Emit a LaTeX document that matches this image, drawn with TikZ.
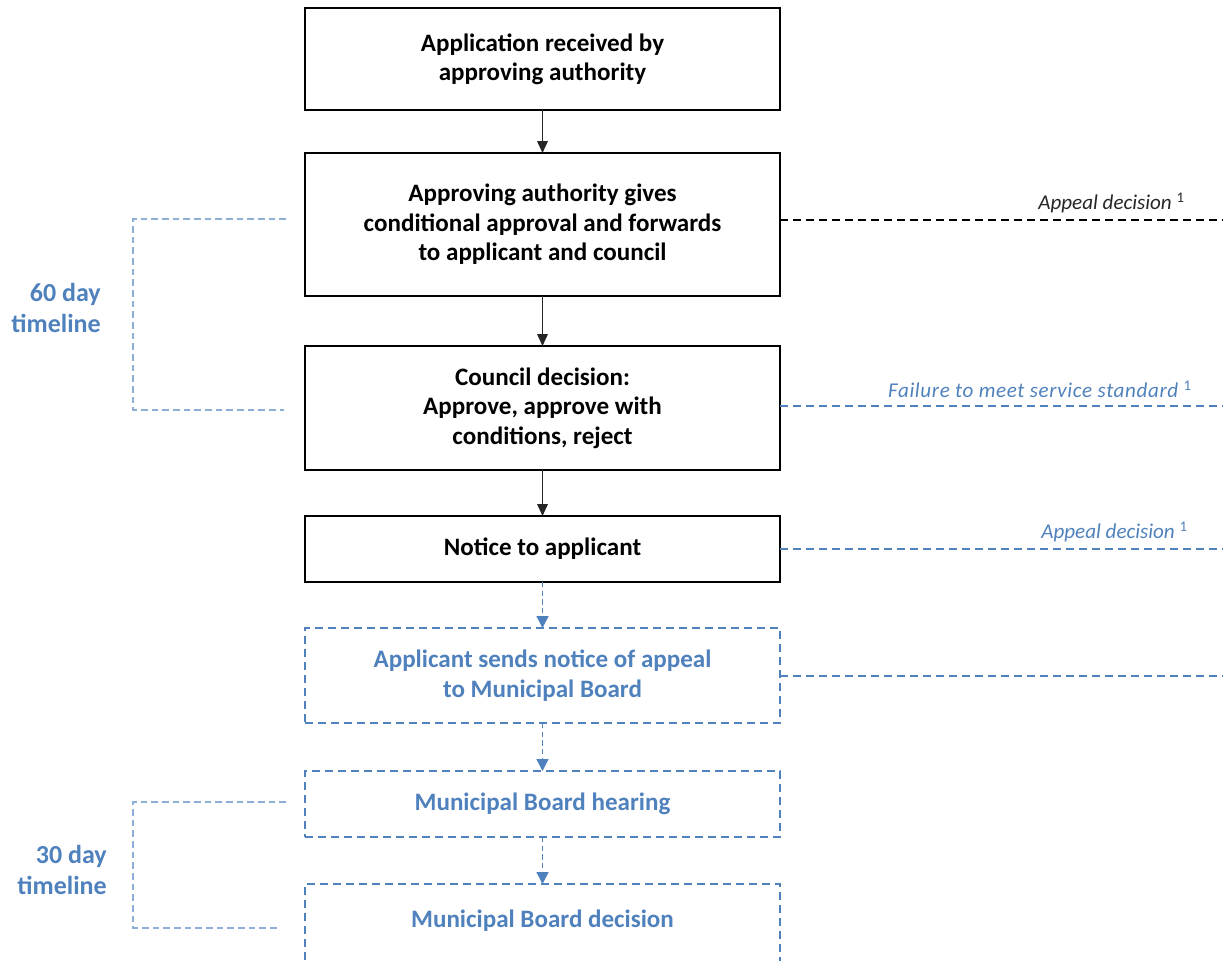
\documentclass[tikz,border=0pt]{standalone}
\usepackage{fontspec}
\setmainfont{Carlito}
\usetikzlibrary{arrows.meta}
\definecolor{ablue}{HTML}{4F81BD}
\definecolor{lblue}{HTML}{8EAEDA}
\begin{document}
\begin{tikzpicture}[x=0.75pt,y=-0.75pt,
  boxfont/.style={font=\fontsize{18.8}{22}\selectfont\bfseries},
  blackbox/.style={boxfont, draw=black, line width=1.1pt, minimum width=356.25pt,
    inner sep=0pt, outer sep=0pt, align=center, fill=white},
  bluebox/.style={boxfont, draw=ablue, text=ablue, line width=1.1pt,
    dash pattern=on 6pt off 3.75pt, minimum width=356.25pt,
    inner sep=0pt, outer sep=0pt, align=center},
  blackarrow/.style={draw=black!85, line width=1.1pt, -{Triangle[length=9pt,width=8pt]}},
  bluearrow/.style={draw=ablue, line width=1.1pt, dash pattern=on 4pt off 2.5pt,
    -{Triangle[length=9pt,width=9pt]}},
  blackdash/.style={draw=black, line width=1.1pt, dash pattern=on 6pt off 3.75pt},
  bluedash/.style={draw=ablue, line width=1.1pt, dash pattern=on 6pt off 3.75pt},
  bracket/.style={draw=lblue, line width=1.4pt, dash pattern=on 5pt off 3pt},
  sidelabel/.style={font=\fontsize{15.8}{18}\selectfont\itshape, inner sep=0pt, anchor=east},
  timelabel/.style={font=\fontsize{19.5}{23}\selectfont\bfseries, text=ablue,
    align=right, inner sep=0pt, anchor=east}
]
\useasboundingbox (0,0) rectangle (1223,960);
\clip (0,0) rectangle (1223,960);

% main boxes
\node[blackbox, minimum height=76.5pt] (b1) at (542.5,59)
  {Application received by\\approving authority};
\node[blackbox, minimum height=107.25pt] (b2) at (542.5,224.5)
  {Approving authority gives\\conditional approval and forwards\\to applicant and council};
\node[blackbox, minimum height=93pt] (b3) at (542.5,408)
  {Council decision:\\Approve, approve with\\conditions, reject};
\node[blackbox, minimum height=49.5pt] (b4) at (542.5,549)
  {Notice to applicant};
\node[bluebox, minimum height=71.25pt] (b5) at (542.5,675.5)
  {Applicant sends notice of appeal\\to Municipal Board};
\node[bluebox, minimum height=49.5pt] (b6) at (542.5,804)
  {Municipal Board hearing};
\node[bluebox, minimum height=75pt] (b7) at (542.5,934) {};
\node[boxfont, text=ablue, inner sep=0pt] (t7) at (542.5,921) {Municipal Board decision};

% arrows
\draw[blackarrow] (b1) -- (b2);
\draw[blackarrow] (b2) -- (b3);
\draw[blackarrow] (b3) -- (b4);
\draw[bluearrow] (b4) -- (b5);
\draw[bluearrow] (b5) -- (b6);
\draw[bluearrow] (b6) -- (b7);

% right side lines
\coordinate (r1) at (1223,220);
\coordinate (r2) at (1223,406);
\coordinate (r3) at (1223,549);
\coordinate (r4) at (1223,676);
\draw[blackdash] (b2.east |- r1) -- (r1);
\draw[bluedash] (b3.east |- r2) -- (r2);
\draw[bluedash] (b4.east |- r3) -- (r3);
\draw[bluedash] (b5.east |- r4) -- (r4);

\node[sidelabel, text=black!85] (l1) at (1185,203) {Appeal decision \textsuperscript{\upshape 1}};
\node[sidelabel, text=ablue] (l2) at (1192,389)
  {\addfontfeature{LetterSpace=3}Failure to meet service standard \textsuperscript{\upshape 1}};
\node[sidelabel, text=ablue] (l3) at (1188,532) {Appeal decision \textsuperscript{\upshape 1}};

% left brackets
\coordinate (a1) at (286,219);
\coordinate (a2) at (133,219);
\coordinate (a3) at (133,410);
\coordinate (a4) at (284,410);
\draw[bracket] (a1) -- (a2) -- (a3) -- (a4);
\node[timelabel] (tl1) at (101,308) {60 day\\timeline};

\coordinate (c1) at (286,802);
\coordinate (c2) at (133,802);
\coordinate (c3) at (133,928);
\coordinate (c4) at (278,928);
\draw[bracket] (c1) -- (c2) -- (c3) -- (c4);
\node[timelabel] (tl2) at (107,870) {30 day\\timeline};
\end{tikzpicture}
\end{document}
